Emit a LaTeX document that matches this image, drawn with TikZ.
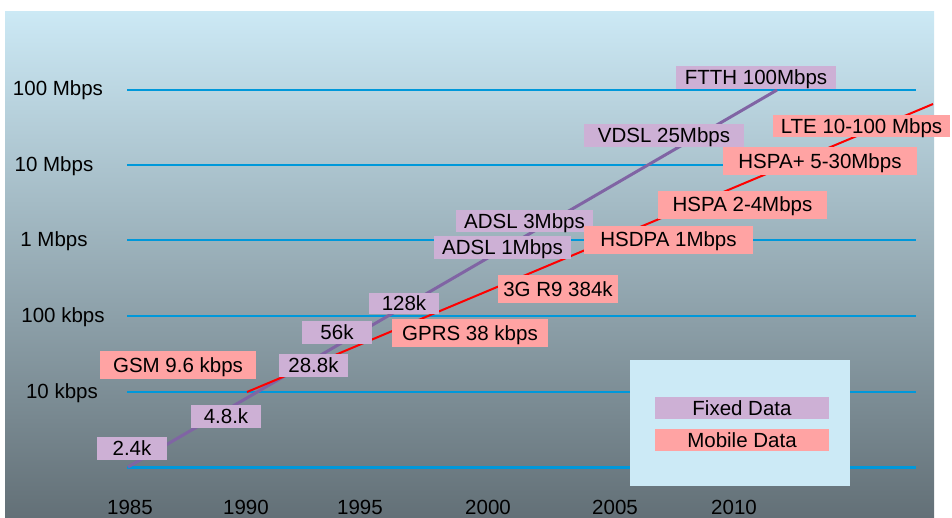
\documentclass[tikz,border=0pt]{standalone}
\usepackage{fontspec}
\setmainfont{Liberation Sans}
\usepackage{xcolor}
\usepackage{tikz}
\usetikzlibrary{positioning}
\definecolor{fixeddata}{RGB}{205,176,213}
\definecolor{mobiledata}{RGB}{255,163,163}
\definecolor{gridblue}{RGB}{0,152,218}
\definecolor{fixedline}{RGB}{128,100,164}
\definecolor{skytop}{RGB}{204,233,245}
\definecolor{skymid}{RGB}{170,197,208}
\definecolor{skybottom}{RGB}{99,112,119}
\definecolor{legendbg}{RGB}{204,234,246}

\begin{document}
\begin{tikzpicture}[
  x=1pt, y=-1pt,
  font=\fontsize{20.5}{24}\selectfont,
  fixedbox/.style={
    rectangle, fill=fixeddata, inner sep=0pt,
    text height=16pt, text depth=1.4pt,
    minimum height=23pt, text=black
  },
  mobilebox/.style={
    rectangle, fill=mobiledata, inner sep=0pt,
    text height=16pt, text depth=1.4pt,
    minimum height=28pt, text=black
  },
  gridline/.style={draw=gridblue, line width=2pt},
  fixedtrend/.style={draw=fixedline, line width=3pt},
  mobiletrend/.style={draw=red, line width=2pt},
  axislabel/.style={inner sep=0pt}
]
\useasboundingbox (0,0) rectangle (952,517);

% ── Background ──
\shade[top color=skytop, middle color=skymid, bottom color=skybottom]
  (5,11) rectangle (934,517);

% ── Speed axis ──
\node[axislabel] (mb100) at (58,90) {100 Mbps};
\node[axislabel] (mb10) at (54,166) {10 Mbps};
\node[axislabel] (mb1) at (54,241) {1 Mbps};
\node[axislabel] (kb100) at (63,317) {100 kbps};
\node[axislabel] (kb10) at (62,393) {10 kbps};

\foreach \y in {90,165,240,316,392}
  \draw[gridline] (127,\y) -- (916,\y);
\draw[gridblue, line width=3pt] (127,467) -- (916,467);

% ── Year axis ──
\foreach \yr/\x in {1985/130, 1990/246, 1995/360, 2000/488, 2005/615, 2010/734}
  \node[axislabel] (yr\yr) at (\x,507) {\yr};

% ── Trend lines ──
\coordinate (fstart) at (128,467);
\coordinate (fend) at (777,90);
\coordinate (mstart) at (247,392);
\coordinate (mend) at (933,104);
\draw[fixedtrend] (fstart) -- (fend);
\draw[mobiletrend] (mstart) -- (mend);

% ── Fixed data labels ──
\node[fixedbox, minimum width=70pt] (k24) at (132,448) {2.4k};
\node[fixedbox, minimum width=70pt] (k48) at (226,416.5) {4.8.k};
\node[fixedbox, minimum width=69pt] (k288) at (313.5,365.5) {28.8k};
\node[fixedbox, minimum width=70pt] (k56) at (337,332) {56k};
\node[fixedbox, minimum width=70pt, minimum height=21pt] (k128) at (404,303.5) {128k};
\node[fixedbox, minimum width=137pt] (adsl1) at (502.5,247.5) {ADSL 1Mbps};
\node[fixedbox, minimum width=137pt, minimum height=22pt] (adsl3) at (524.5,221) {ADSL 3Mbps};
\node[fixedbox, minimum width=160pt] (vdsl) at (664,135.5) {VDSL 25Mbps};
\node[fixedbox, minimum width=160pt] (ftth) at (756,77.5) {FTTH 100Mbps};

% ── Mobile data labels ──
\node[mobilebox, minimum width=156pt] (gsm) at (178,365) {GSM 9.6 kbps};
\node[mobilebox, minimum width=156pt] (gprs) at (470,333) {GPRS 38 kbps};
\node[mobilebox, minimum width=120pt] (r99) at (558,289) {3G R9 384k};
\node[mobilebox, minimum width=169pt] (hsdpa) at (668.5,239.5) {HSDPA 1Mbps};
\node[mobilebox, minimum width=169pt] (hspa) at (742.5,204.5) {HSPA 2-4Mbps};
\node[mobilebox, minimum width=194pt] (hspaplus) at (820,161) {HSPA+ 5-30Mbps};
\node[mobilebox, minimum width=177pt, minimum height=22pt] (lte) at (861.5,126) {LTE 10-100 Mbps};

% ── Legend ──
\node[fill=legendbg, minimum width=220pt, minimum height=126pt, inner sep=0pt] (legend) at (740,423) {};
\node[fixedbox, minimum width=174pt, minimum height=22pt] (fixedkey) at (742,408) {Fixed Data};
\node[mobilebox, minimum width=174pt, minimum height=22pt, below=10pt of fixedkey] (mobilekey) {Mobile Data};

\end{tikzpicture}
\end{document}
